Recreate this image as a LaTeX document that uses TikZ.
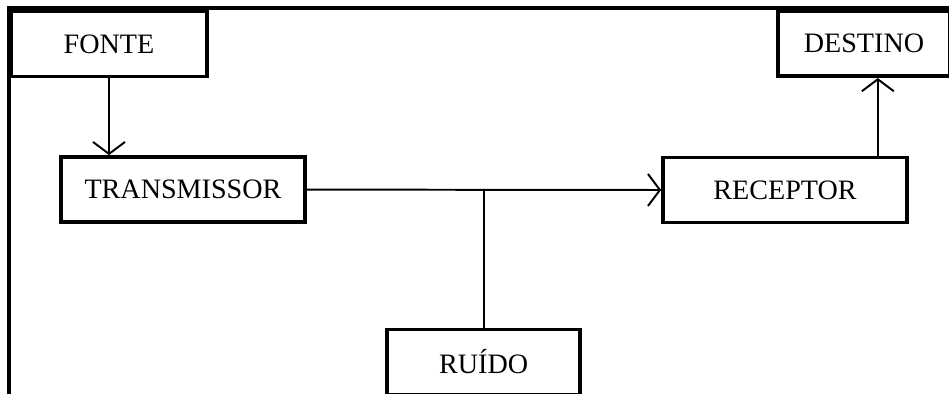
\documentclass[tikz,border=0pt]{standalone}
\usepackage{fontspec}
\setmainfont{Liberation Serif}
\usepackage{tikz}
\usetikzlibrary{arrows.meta}

\tikzset{
    blockbox/.style={draw, line width=2.6pt, minimum width=#1, minimum height=1.63cm,
        font=\fontsize{20}{24}\selectfont},
    blockbox/.default=6.1cm,
    link/.style={line width=1.4pt},
    flow/.style={link, -{Straight Barb[length=0.3cm, width=0.8cm, line width=1.4pt]}}
}

\begin{document}
\begin{tikzpicture}
    \useasboundingbox (0,0) rectangle (23.725,-9.85);
    \begin{scope}
    \clip (0,0) rectangle (23.725,-9.85);

    % Frame
    \draw[line width=2.4pt] (0.225,-9.9) -- (0.225,-0.2) -- (23.8,-0.2);

    % Blocks
    \node[blockbox=4.9cm] (fonte) at (2.725,-1.1) {FONTE};
    \node[blockbox=4.3cm] (destino) at (21.6,-1.09) {DESTINO};
    \node[blockbox] (transmissor) at (4.575,-4.74) {TRANSMISSOR};
    \node[blockbox] (receptor) at (19.625,-4.75) {RECEPTOR};
    \node[blockbox=4.83cm] (ruido) at (12.09,-9.05) {RUÍDO};

    % Connectors
    \draw[flow] (fonte.south) -- (fonte.south |- transmissor.north);
    \draw[flow] (transmissor.east) -- (receptor.west);
    \draw[link] (ruido.north) -- (ruido.north |- transmissor.east);
    \coordinate (up) at ([xshift=-0.775cm]receptor.north east);
    \draw[flow] (up) -- (up |- destino.south);
    \end{scope}
\end{tikzpicture}
\end{document}
